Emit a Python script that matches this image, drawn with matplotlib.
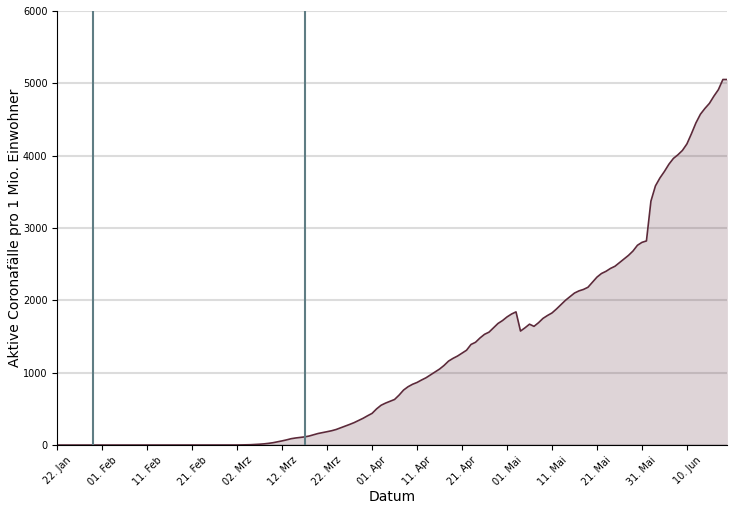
import numpy as np
import pandas as pd
import matplotlib
matplotlib.use("Agg")
import matplotlib.pyplot as plt

# aktive Fälle pro 1 Mio. Einwohner, täglich ab 22.01.2020
start = "2020-01-22"
werte = [0] * 39 + [
    1, 1, 2, 3, 5, 8, 12, 17, 24, 33,            # 01.03. - 10.03.
    45, 58, 72, 88, 98, 106, 113, 125, 142, 160,  # 11.03. - 20.03.
    172, 185, 198, 215, 238, 262, 285, 310, 340, 370,
    405, 438, 500, 550, 580, 605, 630, 690, 760, 806,
    840, 865, 899, 930, 970, 1010, 1050, 1100, 1160, 1198,
    1230, 1270, 1310, 1390, 1420, 1480, 1530, 1560, 1620, 1680,
    1720, 1770, 1810, 1840, 1575, 1620, 1670, 1640, 1690, 1750,
    1790, 1825, 1880, 1940, 2000, 2050, 2100, 2130, 2150, 2180,
    2250, 2320, 2370, 2400, 2440, 2470, 2520, 2570, 2620, 2680,
    2760, 2800, 2820, 3370, 3580, 3690, 3780, 3880, 3960, 4010,
    4070, 4160, 4300, 4450, 4570, 4650, 4720, 4820, 4910, 5050,
    5050,
]
datum = pd.date_range(start, periods=len(werte), freq="D")

# Markierungen (senkrechte Linien)
ereignisse = pd.to_datetime(["2020-01-30", "2020-03-17"])

tick_daten = pd.date_range(start, "2020-06-10", freq="10D")
tick_labels = ["22. Jan", "01. Feb", "11. Feb", "21. Feb", "02. Mrz", "12. Mrz",
               "22. Mrz", "01. Apr", "11. Apr", "21. Apr", "01. Mai", "11. Mai",
               "21. Mai", "31. Mai", "10. Jun"]

farbe = "#5c2a3a"

fig = plt.figure(figsize=(7.34, 5.11), dpi=100)
ax = fig.add_axes([0.078, 0.129, 0.913, 0.85])

ax.yaxis.grid(True, color="#dcdcdc", linewidth=1.5, zorder=0)
ax.set_axisbelow(True)

ax.fill_between(datum, werte, color=farbe, alpha=0.2, linewidth=0, zorder=1)
ax.plot(datum, werte, color=farbe, linewidth=1.2, zorder=2)

for e in ereignisse:
    ax.axvline(e, color="#5f7d84", linewidth=1.5, zorder=3)

ax.set_xlim(datum[0], datum[-1])
ax.set_ylim(0, 6000)
ax.set_yticks(range(0, 6001, 1000))
ax.set_xticks(tick_daten)
ax.set_xticklabels(tick_labels, rotation=45)
ax.tick_params(labelsize=7)

ax.spines["top"].set_visible(False)
ax.spines["right"].set_visible(False)

ax.set_xlabel("Datum", fontsize=10, labelpad=1.5)
ax.set_ylabel("Aktive Coronafälle pro 1 Mio. Einwohner", fontsize=10, labelpad=1)

fig.savefig("out.png", dpi=100)
